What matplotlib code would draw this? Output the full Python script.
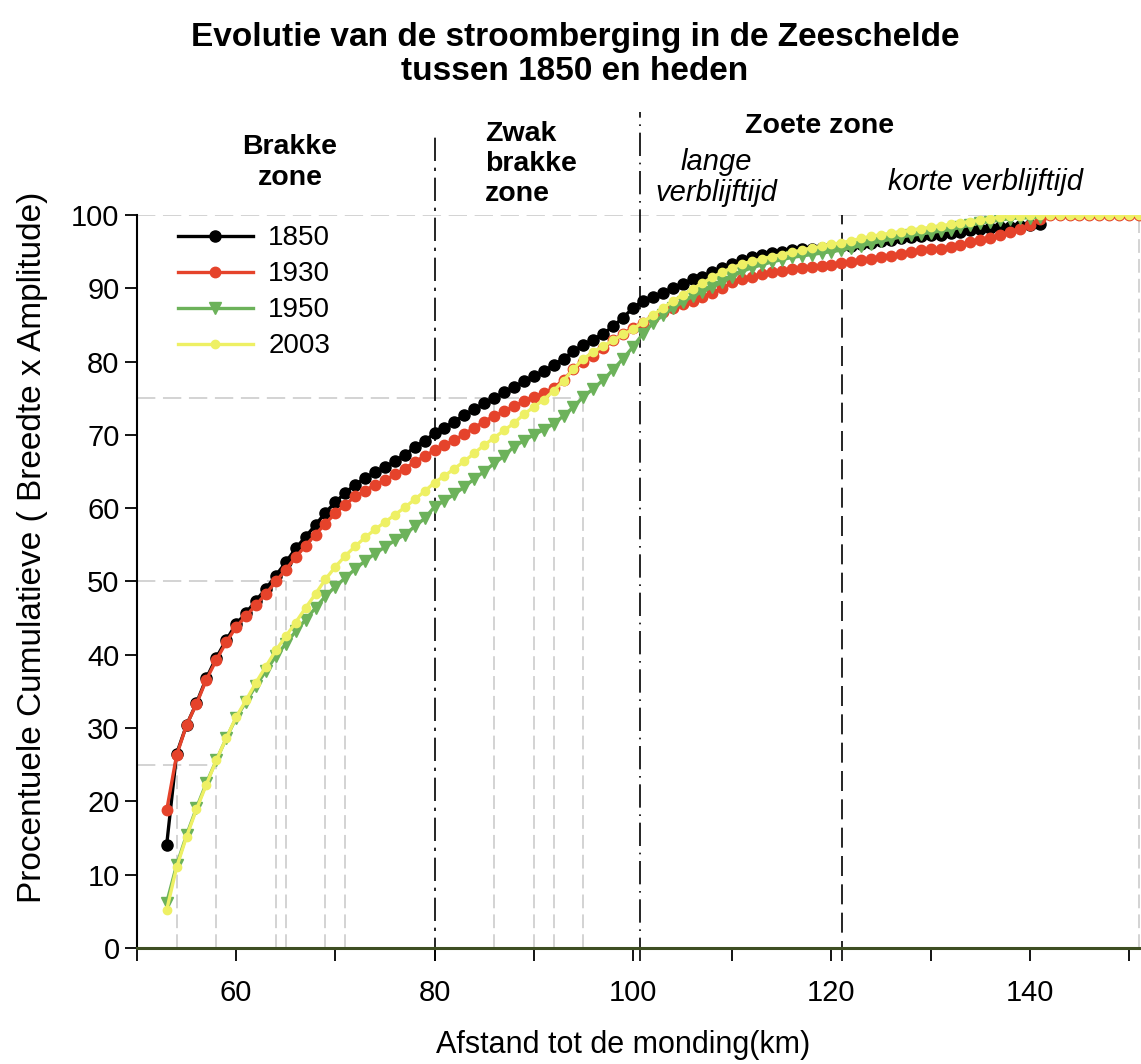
import numpy as np
import matplotlib
matplotlib.use("Agg")
import matplotlib.pyplot as plt

plt.rcParams['font.family'] = ['Liberation Sans', 'DejaVu Sans']

# afstand tot de monding (km)
km_kort = list(range(53, 142))   # 53 .. 141
km_lang = list(range(53, 152))   # 53 .. 151

v1850 = [14.1, 26.5, 30.4, 33.4, 36.8, 39.6, 42.0, 44.2, 45.7, 47.4,
         49.0, 50.8, 52.6, 54.5, 56.1, 57.7, 59.4, 60.8, 62.1, 63.2,
         64.1, 64.9, 65.6, 66.4, 67.3, 68.3, 69.2, 70.2, 71.0, 71.8,
         72.7, 73.5, 74.3, 75.0, 75.8, 76.5, 77.3, 78.0, 78.7, 79.5,
         80.4, 81.4, 82.3, 83.0, 83.8, 84.8, 86.0, 87.3, 88.3, 88.8,
         89.4, 90.0, 90.6, 91.2, 91.6, 92.2, 92.7, 93.3, 93.8, 94.2,
         94.5, 94.8, 95.0, 95.2, 95.3, 95.4, 95.5, 95.6, 95.7, 95.8,
         96.0, 96.2, 96.4, 96.6, 96.8, 97.0, 97.1, 97.2, 97.3, 97.5,
         97.7, 97.9, 98.1, 98.2, 98.3, 98.4, 98.5, 98.6, 98.8]

v1930 = [18.8, 26.3, 30.4, 33.3, 36.6, 39.3, 41.7, 43.8, 45.3, 46.8,
         48.3, 50.0, 51.6, 53.3, 54.9, 56.4, 57.9, 59.3, 60.5, 61.6,
         62.4, 63.2, 63.8, 64.6, 65.4, 66.3, 67.1, 67.9, 68.6, 69.3,
         70.1, 71.0, 71.8, 72.6, 73.2, 73.9, 74.6, 75.2, 75.7, 76.4,
         77.5, 79.0, 80.0, 80.8, 81.8, 82.9, 83.8, 84.6, 85.3, 86.0,
         86.7, 87.3, 87.8, 88.3, 88.8, 89.4, 90.0, 90.8, 91.2, 91.6,
         91.9, 92.2, 92.4, 92.6, 92.8, 92.9, 93.1, 93.2, 93.4, 93.6,
         93.8, 94.0, 94.2, 94.4, 94.7, 95.0, 95.2, 95.3, 95.4, 95.6,
         95.9, 96.3, 96.6, 96.9, 97.3, 97.7, 98.1, 98.6, 99.4, 100.0,
         100.0, 100.0, 100.0, 100.0, 100.0, 100.0, 100.0, 100.0, 100.0]

v1950 = [6.2, 11.3, 15.4, 19.1, 22.5, 25.6, 28.6, 31.4, 33.6, 35.8,
         37.8, 39.8, 41.5, 43.2, 44.8, 46.4, 48.0, 49.3, 50.5, 51.7,
         52.8, 53.8, 54.7, 55.6, 56.4, 57.5, 58.6, 60.2, 61.0, 61.9,
         62.9, 64.0, 65.0, 66.1, 67.1, 68.4, 69.2, 70.0, 70.7, 71.5,
         72.6, 73.8, 75.2, 76.3, 77.5, 78.9, 80.4, 82.0, 83.8, 85.2,
         86.3, 87.3, 88.1, 88.9, 89.5, 90.2, 90.8, 91.6, 92.3, 92.8,
         93.2, 93.6, 93.9, 94.2, 94.4, 94.6, 94.8, 95.0, 95.2, 95.5,
         95.8, 96.1, 96.4, 96.7, 97.0, 97.2, 97.4, 97.6, 97.8, 98.0,
         98.3, 98.6, 98.9, 99.1, 99.3, 99.5, 99.6, 99.6, 99.7]

v2003 = [5.2, 11.0, 15.2, 18.9, 22.3, 25.6, 28.6, 31.5, 33.8, 36.2,
         38.4, 40.6, 42.5, 44.4, 46.4, 48.3, 50.3, 52.0, 53.5, 54.8,
         56.0, 57.1, 58.1, 59.1, 60.1, 61.2, 62.3, 63.5, 64.4, 65.4,
         66.4, 67.5, 68.6, 69.6, 70.6, 71.6, 72.8, 73.8, 74.8, 76.0,
         77.4, 79.0, 80.4, 81.3, 82.1, 82.9, 83.7, 84.4, 85.4, 86.3,
         87.3, 88.2, 89.1, 89.9, 90.7, 91.5, 92.2, 92.8, 93.3, 93.7,
         94.0, 94.3, 94.6, 94.9, 95.2, 95.5, 95.7, 96.0, 96.2, 96.5,
         96.8, 97.1, 97.3, 97.5, 97.7, 97.9, 98.1, 98.3, 98.5, 98.7,
         98.9, 99.1, 99.3, 99.5, 99.7, 99.8, 99.9, 100.0, 100.0, 100.0,
         100.0, 100.0, 100.0, 100.0, 100.0, 100.0, 100.0, 100.0, 100.0]

# hulplijnen (grijs): (x, tot y) en (y, tot x)
hulp_x = [(54, 25), (58, 25), (64, 50), (65, 50), (69, 50), (71, 50),
          (86, 75), (90, 75), (92, 75), (95, 75), (151, 100)]
hulp_y = [(25, 58), (50, 71), (75, 95), (100, 151.3)]

fig = plt.figure(figsize=(11.41, 10.64), dpi=100)
ax = fig.add_axes([0.120, 0.109, 0.880, 0.689])

grijs = '#c8c8c8'
for x, top in hulp_x:
    ax.plot([x, x], [0, top], color=grijs, lw=1.1, ls=(0, (9, 4)), zorder=1)
for y, right in hulp_y:
    ax.plot([50, right], [y, y], color=grijs, lw=1.1, ls=(0, (12, 5)), zorder=1)

# zonegrenzen
ax.plot([80, 80], [-1.8, 110.8], color='black', lw=1.2,
        ls=(0, (14, 4, 2, 4)), clip_on=False, zorder=2)
ax.plot([100.7, 100.7], [-1.8, 114.0], color='black', lw=1.2,
        ls=(0, (14, 4, 1, 4)), clip_on=False, zorder=2)
ax.plot([121.1, 121.1], [-1.8, 100], color='black', lw=1.2,
        ls=(0, (12, 5)), clip_on=False, zorder=2)

ax.plot(km_kort, v1850, color='black', marker='o', ms=8, lw=2.4, label='1850', zorder=3)
ax.plot(km_lang, v1930, color='#e5432b', marker='o', ms=7.5, lw=2.4, label='1930', zorder=3)
ax.plot(km_kort, v1950, color='#6cb25a', marker='v', ms=8, lw=2.4, label='1950', zorder=3)
ax.plot(km_lang, v2003, color='#eef064', marker='o', ms=6, lw=2.4, label='2003', zorder=4)

ax.set_xlim(50, 151.2)
ax.set_ylim(0, 100)
ax.set_xticks(range(50, 151, 10))
ax.set_xticklabels(['' if t % 20 else str(t) for t in range(50, 151, 10)])
ax.set_yticks(range(0, 101, 10))
ax.tick_params(axis='both', labelsize=21, length=9, width=1.3, direction='out')
ax.tick_params(axis='x', pad=13)

ax.spines['top'].set_visible(False)
ax.spines['right'].set_visible(False)
ax.spines['left'].set_linewidth(1.5)
ax.spines['bottom'].set_color('#3e4e22')
ax.spines['bottom'].set_linewidth(2.2)

ax.set_xlabel('Afstand tot de monding(km)', fontsize=22)
ax.xaxis.set_label_coords(0.484, -0.112)
ax.set_ylabel('Procentuele Cumulatieve ( Breedte x Amplitude)', fontsize=24)
ax.yaxis.set_label_coords(-0.089, 0.547)

ax.legend(loc='upper left', bbox_to_anchor=(0.016, 1.02), frameon=False,
          fontsize=20, handlelength=2.7, labelspacing=0.36, handletextpad=0.55)

fig.text(0.504, 0.9485, 'Evolutie van de stroomberging in de Zeeschelde\ntussen 1850 en heden',
         ha='center', va='center', fontsize=24, fontweight='bold', linespacing=1.12)

fig.text(0.2542, 0.8473, 'Brakke\nzone', ha='center', va='center', fontsize=20.5,
         fontweight='bold', linespacing=1.26)
fig.text(0.425, 0.8459, 'Zwak\nbrakke\nzone', ha='left', va='center', fontsize=20.5,
         fontweight='bold', linespacing=1.22)
fig.text(0.7187, 0.8815, 'Zoete zone', ha='center', va='center', fontsize=20.5,
         fontweight='bold')
fig.text(0.628, 0.8332, 'lange\nverblijftijd', ha='center', va='center', fontsize=21,
         style='italic', linespacing=1.12)
fig.text(0.8633, 0.829, 'korte verblijftijd', ha='center', va='center', fontsize=21,
         style='italic')

fig.savefig('out.png', dpi=100)
